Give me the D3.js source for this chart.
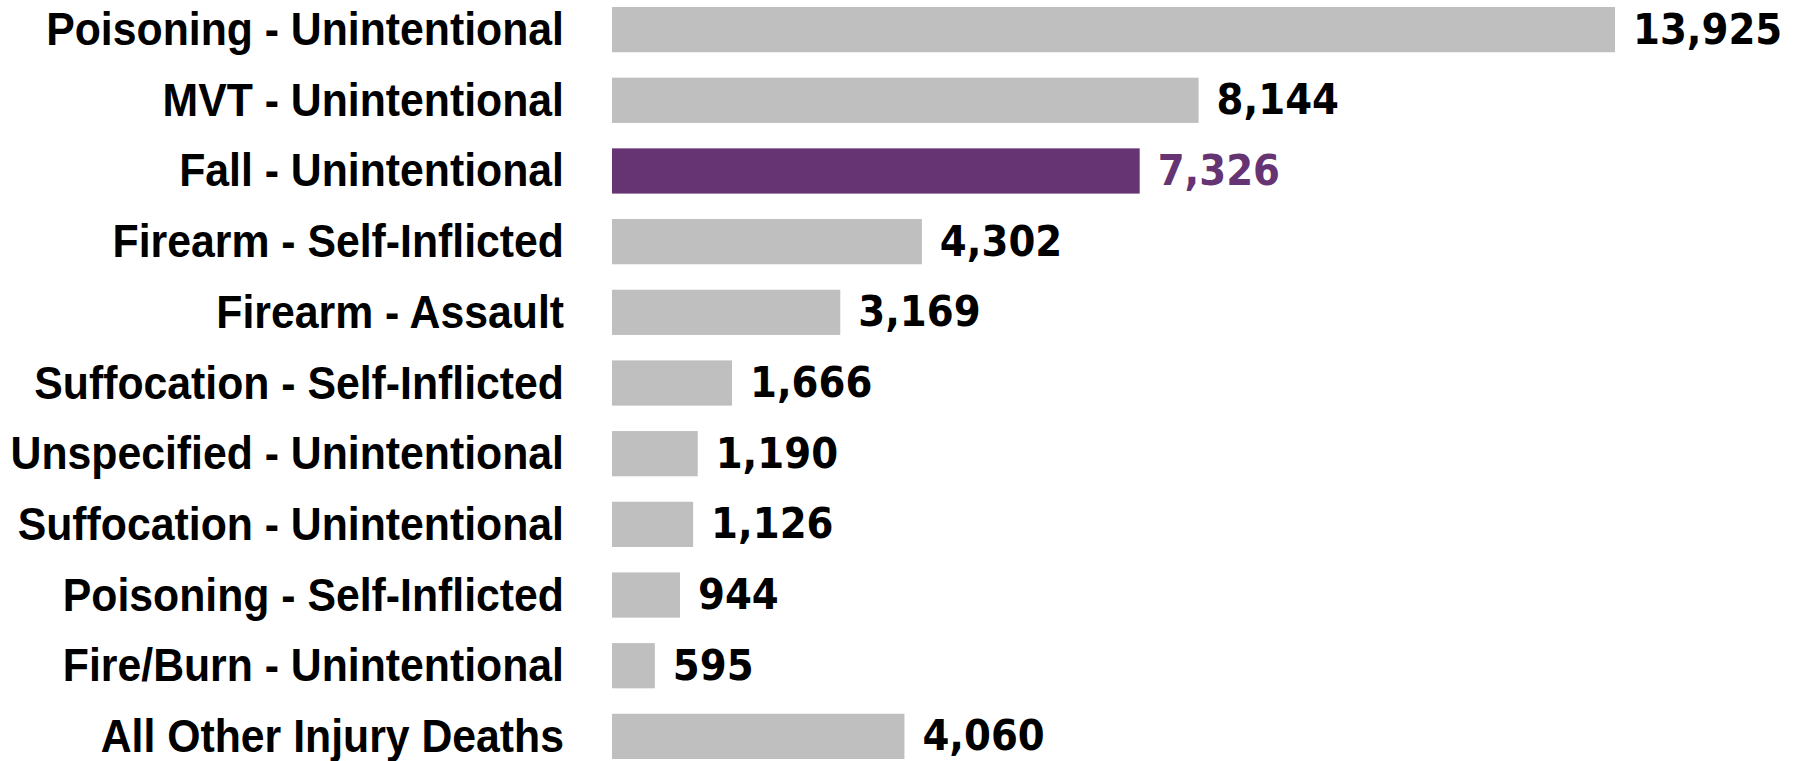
<!DOCTYPE html>
<html>
<head>
<meta charset="utf-8">
<script src="https://cdn.jsdelivr.net/npm/d3@7"></script>
<style>
  html, body { margin: 0; padding: 0; background: #ffffff; }
  svg { display: block; }
</style>
</head>
<body>
<svg id="chart" width="1793" height="761"></svg>
<script>
const categories = [
  "Poisoning - Unintentional",
  "MVT - Unintentional",
  "Fall - Unintentional",
  "Firearm - Self-Inflicted",
  "Firearm - Assault",
  "Suffocation - Self-Inflicted",
  "Unspecified - Unintentional",
  "Suffocation - Unintentional",
  "Poisoning - Self-Inflicted",
  "Fire/Burn - Unintentional",
  "All Other Injury Deaths"
];
const deaths = [13925, 8144, 7326, 4302, 3169, 1666, 1190, 1126, 944, 595, 4060];
const highlighted = ["Fall - Unintentional"];

const data = categories.map((c, i) => ({ category: c, value: deaths[i] }));

const svg = d3.select("#chart");
const barLeft = 612, barRightMax = 1615;

const x = d3.scaleLinear()
  .domain([0, d3.max(deaths)])
  .range([barLeft, barRightMax]);

const y = d3.scaleBand()
  .domain(categories)
  .range([7, 759])
  .paddingInner(0.36)
  .paddingOuter(0);

const grey = "#bfbfbf", purple = "#663472";
const fmt = d3.format(",");
const isHi = d => highlighted.includes(d.category);

svg.append("g").selectAll("rect")
  .data(data).join("rect")
  .attr("x", x(0))
  .attr("y", d => y(d.category))
  .attr("width", d => x(d.value) - x(0))
  .attr("height", y.bandwidth())
  .attr("fill", d => isHi(d) ? purple : grey);

const labelScale = 0.94;
svg.append("g").selectAll("text")
  .data(data).join("text")
  .attr("transform", d => `translate(564,${y(d.category) + y.bandwidth() / 2 + 15.5}) scale(${labelScale},1)`)
  .attr("text-anchor", "end")
  .style("font-family", "'Liberation Sans', Arial, sans-serif")
  .style("font-weight", 700)
  .style("font-size", "45.5px")
  .attr("fill", "#000")
  .text(d => d.category);

svg.append("g").selectAll("text")
  .data(data).join("text")
  .attr("x", d => x(d.value) + 18)
  .attr("y", d => y(d.category) + y.bandwidth() / 2 + 14)
  .attr("text-anchor", "start")
  .style("font-family", "'DejaVu Sans Condensed', 'DejaVu Sans', sans-serif")
  .style("font-stretch", "condensed")
  .style("font-weight", 700)
  .style("font-size", "43px")
  .attr("fill", d => isHi(d) ? purple : "#000")
  .text(d => fmt(d.value));
</script>
</body>
</html>
